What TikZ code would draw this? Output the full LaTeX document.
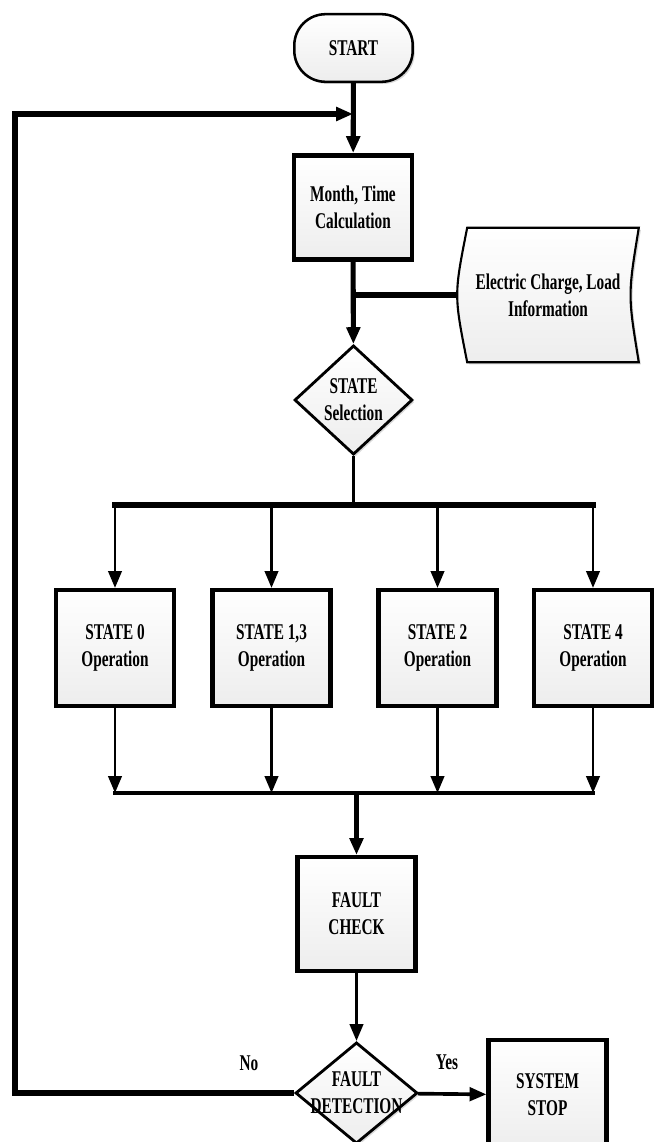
\documentclass[tikz,border=0pt]{standalone}
\usepackage{fontspec}
\setmainfont[FakeStretch=0.68]{Liberation Serif}
\usetikzlibrary{arrows.meta,shapes.geometric,shadows,backgrounds}
\newcommand{\flowfont}{\fontsize{16}{19}\selectfont\bfseries}

\begin{document}
\begin{tikzpicture}[x=0.025cm, y=-0.025cm,
    >={Triangle[length=12pt,width=9.5pt]},
    every node/.style={font=\flowfont, align=center},
    shadebox/.style={top color=white, bottom color=gray!14,
      drop shadow={shadow xshift=1.5pt, shadow yshift=-1.5pt, opacity=0.3}},
    procbox/.style={shadebox, draw, line width=3.2pt, minimum width=2.94cm},
    decbox/.style={shadebox, draw, diamond, line width=2pt, inner sep=0pt},
    heavy/.style={line width=3.6pt},
    medium/.style={line width=2.6pt},
    light/.style={line width=2pt}]
    \useasboundingbox (0,0) rectangle (662,1142);
    % 开始与计算
    \node[shadebox, draw, line width=1.8pt, rounded corners=0.78cm,
      minimum width=2.96cm, minimum height=1.69cm] (start) at (353.5,48) {START};
    \node[procbox, minimum height=2.61cm] (month) at (353,207.5) {Month, Time\\Calculation};
    \node[minimum width=4.525cm, minimum height=3.35cm] (elec) at (548,295) {Electric Charge, Load\\Information};
    \begin{scope}[on background layer]
      \draw[shadebox, line width=1.5pt] ([xshift=0.25cm]elec.north west) -- (elec.north east)
        .. controls ([xshift=-0.275cm]elec.east) .. (elec.south east)
        -- ([xshift=0.25cm]elec.south west)
        .. controls ([xshift=-0.083cm]elec.west) .. cycle;
    \end{scope}
    \node[decbox, minimum width=2.95cm, minimum height=2.73cm] (sel) at (353.5,400) {STATE\\Selection};
    % 四个状态
    \node[procbox, minimum height=2.89cm] (s0) at (115,648) {STATE 0\\Operation};
    \node[procbox, minimum height=2.89cm] (s1) at (271.5,648) {STATE 1,3\\Operation};
    \node[procbox, minimum height=2.89cm] (s2) at (437.5,648) {STATE 2\\Operation};
    \node[procbox, minimum height=2.89cm] (s4) at (593,648) {STATE 4\\Operation};
    % 故障判断
    \node[procbox, minimum height=2.84cm] (fchk) at (356.5,914) {FAULT\\CHECK};
    \node[decbox, minimum width=3.05cm, minimum height=2.53cm] (fdet) at (356.5,1093)
      {\makebox[0pt]{FAULT}\\\makebox[0pt]{DETECTION}};
    \node[procbox, minimum height=2.75cm] (stop) at (547.5,1095) {SYSTEM\\STOP};
    \node (nolab) at (249,1063) {No};
    \node (yeslab) at (447,1062) {Yes};
    % 连线
    \coordinate (loopB) at (15,1093);
    \coordinate (loopT) at (15,114);
    \coordinate (jn) at (353,295);
    \coordinate (brc) at (353.5,505);
    \coordinate (mgc) at (356.5,793);
    \draw[heavy,->] (start) -- (month);
    \draw[heavy,->] (fdet.west) -- (loopB) -- (loopT) -- (loopT -| month.north);
    \draw[heavy,->] (month) -- (sel);
    \draw[heavy] (jn) -- (elec.west);
    \draw[medium] (sel) -- (brc);
    \draw[heavy, line cap=rect] (s0.north |- brc) -- (s4.north |- brc);
    \foreach \s in {s0,s1,s2,s4} {                          % 分支与汇合
      \draw[light,->] (\s.north |- brc) -- (\s);
      \draw[light,->] (\s) -- (\s.south |- mgc);
    }
    \draw[medium, line cap=rect] (s0.south |- mgc) -- (s4.south |- mgc);
    \draw[heavy,->] (mgc) -- (fchk);
    \draw[light,->] (fchk) -- (fdet);
    \draw[medium,->] (fdet) -- (stop);
\end{tikzpicture}
\end{document}
